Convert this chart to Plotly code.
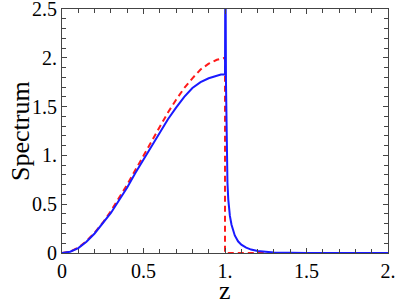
import plotly.graph_objects as go

# red dashed curve
z_red = [0, 0.05, 0.1, 0.15, 0.2, 0.25, 0.3, 0.35, 0.4, 0.45, 0.5, 0.55, 0.6,
         0.65, 0.7, 0.75, 0.8, 0.85, 0.9, 0.95, 1.0, 1.0, 2.0]
s_red = [0, 0.014, 0.056, 0.122, 0.208, 0.31, 0.43, 0.56, 0.70, 0.85, 1.00,
         1.15, 1.30, 1.44, 1.57, 1.69, 1.79, 1.88, 1.94, 1.98, 2.00, 0, 0]

# blue solid curve
z_blue = [0, 0.05, 0.1, 0.15, 0.2, 0.25, 0.3, 0.35, 0.4, 0.45, 0.5, 0.55, 0.6,
          0.65, 0.7, 0.75, 0.8, 0.85, 0.9, 0.925, 0.95, 0.975, 1.0, 1.002,
          1.004, 1.006, 1.01, 1.015, 1.02, 1.03, 1.04, 1.05, 1.06, 1.08, 1.10,
          1.13, 1.16, 1.2, 1.25, 1.3, 1.4, 1.5, 2.0]
s_blue = [0, 0.013, 0.05, 0.115, 0.20, 0.30, 0.41, 0.54, 0.67, 0.82, 0.96,
          1.10, 1.24, 1.37, 1.49, 1.60, 1.69, 1.75, 1.79, 1.805, 1.82, 1.828,
          1.83, 3.0, 2.6, 1.75, 1.05, 0.72, 0.55, 0.38, 0.29, 0.23, 0.18, 0.12,
          0.085, 0.055, 0.035, 0.02, 0.01, 0.005, 0.002, 0.0, 0.0]

x_tickvals = [0, 0.5, 1, 1.5, 2]
x_ticktext = ["0", "0.5", "1.", "1.5", "2."]
y_tickvals = [0, 0.5, 1, 1.5, 2, 2.5]
y_ticktext = ["0", "0.5", "1.", "1.5", "2.", "2.5"]
x_title = "z"
y_title = "Spectrum"

FONT = "Liberation Serif"
AX = "#444444"

fig = go.Figure()
fig.add_trace(go.Scatter(x=z_red, y=s_red, mode="lines",
                         line=dict(color="#ff1a1a", width=2, dash="6px,4px"),
                         showlegend=False, hoverinfo="skip"))
fig.add_trace(go.Scatter(x=z_blue, y=s_blue, mode="lines",
                         line=dict(color="#1a1aff", width=2),
                         showlegend=False, hoverinfo="skip"))

axis_common = dict(showline=True, linecolor=AX, linewidth=1, mirror="allticks",
                   ticks="inside", ticklen=5, tickcolor=AX, tickwidth=1,
                   showgrid=False, zeroline=False, automargin=False,
                   ticklabeloverflow="allow",
                   tickfont=dict(family=FONT, size=20, color="black"),
                   minor=dict(ticks="inside", ticklen=4, tickcolor=AX,
                              tickwidth=1, dtick=0.1, showgrid=False))

fig.update_xaxes(range=[0, 2], tickmode="array", tickvals=x_tickvals,
                 ticktext=x_ticktext, **axis_common)
fig.update_yaxes(range=[0, 2.5], tickmode="array", tickvals=y_tickvals,
                 ticktext=y_ticktext, **axis_common)

fig.add_annotation(text=x_title, xref="paper", yref="paper", x=0.5, y=0,
                   yshift=-37, yanchor="middle", showarrow=False,
                   font=dict(family=FONT, size=26, color="black"))
fig.add_annotation(text=y_title, xref="paper", yref="paper", x=0, y=0.5,
                   xshift=-42, xanchor="center", yanchor="middle", textangle=-90,
                   showarrow=False,
                   font=dict(family=FONT, size=26, color="black"))

fig.update_layout(width=398, height=300,
                  margin=dict(l=62, r=10, t=9, b=47),
                  plot_bgcolor="white", paper_bgcolor="white",
                  font=dict(family=FONT))

fig.write_html("out.html", config={"displayModeBar": False},
               post_script="document.body.style.margin='0';")
